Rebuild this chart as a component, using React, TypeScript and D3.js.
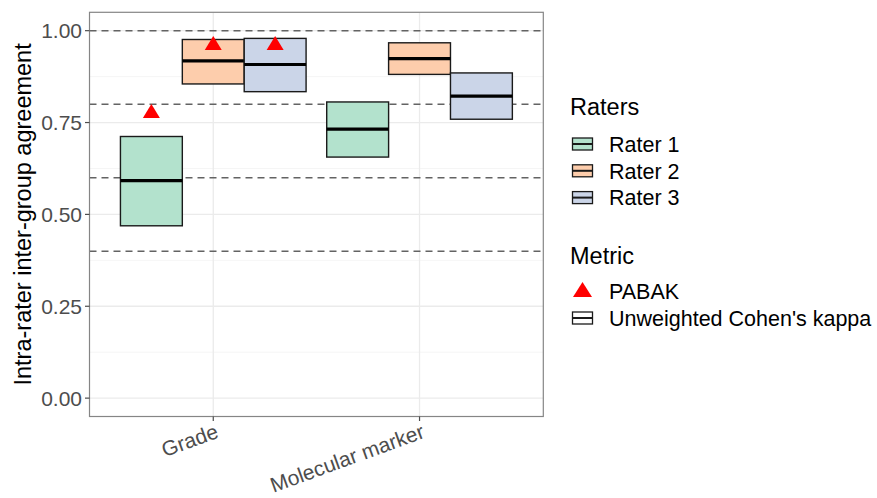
import React from 'react';
import * as d3 from 'd3';

const categories = ['Grade', 'Molecular marker'];
const raters = ['Rater 1', 'Rater 2', 'Rater 3'];
const raterColors = ['#b3e2cd', '#fdcdac', '#cbd5e8'];

// kappa lower / median / upper, one array per category, in rater order
const kappaLow = [[0.469, 0.855, 0.834], [0.656, 0.881, 0.759]];
const kappaMid = [[0.592, 0.918, 0.908], [0.732, 0.924, 0.822]];
const kappaHigh = [[0.712, 0.976, 0.979], [0.806, 0.967, 0.885]];
// PABAK (null = not shown)
const pabak = [[0.775, 0.96, 0.96], [null, null, null]];

const refLines = [0.4, 0.6, 0.8, 1.0];
const yTicks = [0, 0.25, 0.5, 0.75, 1];
const yMinor = [0.125, 0.375, 0.625, 0.875];

const W = 877;
const H = 498;
const panel = { left: 89.5, right: 543.3, top: 12.3, bottom: 416.5 };
const font = '"Liberation Sans", Arial, Helvetica, sans-serif';
const tickSize = 21;
const labelSize = 21.5;
const titleSize = 23.5;

export default function App() {
  const x = d3.scalePoint<string>().domain(categories).range([panel.left, panel.right]).padding(0.6);
  const step = x.step();
  const dodge = d3.scaleBand<string>().domain(raters).range([-0.45 * step, 0.45 * step]);
  const y = d3.scaleLinear().domain([-0.05, 1.05]).range([panel.bottom, panel.top]);
  const color = d3.scaleOrdinal<string, string>().domain(raters).range(raterColors);
  const fmt = d3.format('.2f');

  const tri = (cx: number, cy: number, w = 17, h = 14) =>
    `M${cx},${cy - (2 * h) / 3}L${cx + w / 2},${cy + h / 3}L${cx - w / 2},${cy + h / 3}Z`;

  const boxes: any[] = [];
  categories.forEach((c, ci) => {
    raters.forEach((r, ri) => {
      boxes.push({ c, r, lo: kappaLow[ci][ri], mid: kappaMid[ci][ri], hi: kappaHigh[ci][ri], p: pabak[ci][ri] });
    });
  });

  const legX = 570;
  const raterRowY = (i: number) => 144 + i * 26.8;
  const metricRowY = (i: number) => 291 + i * 27;

  return (
    <svg width={W} height={H} style={{ display: 'block', position: 'absolute', left: 0, top: 0 }} fontFamily={font}>
      <rect width={W} height={H} fill="#fff" />
      {/* grid */}
      {yMinor.map(v => (
        <line key={'mi' + v} x1={panel.left} x2={panel.right} y1={y(v)} y2={y(v)} stroke="#f2f2f2" strokeWidth={0.8} />
      ))}
      {yTicks.map(v => (
        <line key={'ma' + v} x1={panel.left} x2={panel.right} y1={y(v)} y2={y(v)} stroke="#ebebeb" strokeWidth={1.3} />
      ))}
      {categories.map(c => (
        <line key={'vx' + c} x1={x(c)} x2={x(c)} y1={panel.top} y2={panel.bottom} stroke="#ebebeb" strokeWidth={1.3} />
      ))}
      {/* reference lines */}
      {refLines.map(v => (
        <line key={'ref' + v} x1={panel.left} x2={panel.right} y1={y(v)} y2={y(v)} stroke="#636363" strokeWidth={1.5} strokeDasharray="7,5" />
      ))}
      {/* crossbars */}
      {boxes.map(b => {
        const bx = (x(b.c) as number) + (dodge(b.r) as number);
        const bw = dodge.bandwidth();
        return (
          <g key={b.c + b.r}>
            <rect x={bx} y={y(b.hi)} width={bw} height={y(b.lo) - y(b.hi)} fill={color(b.r)} stroke="#1a1a1a" strokeWidth={1.4} />
            <line x1={bx} x2={bx + bw} y1={y(b.mid)} y2={y(b.mid)} stroke="#000" strokeWidth={3.2} />
          </g>
        );
      })}
      {/* PABAK */}
      {boxes.filter(b => b.p != null).map(b => {
        const cx = (x(b.c) as number) + (dodge(b.r) as number) + dodge.bandwidth() / 2;
        return <path key={'p' + b.c + b.r} d={tri(cx, y(b.p))} fill="#ff0000" />;
      })}
      {/* panel border */}
      <rect x={panel.left} y={panel.top} width={panel.right - panel.left} height={panel.bottom - panel.top} fill="none" stroke="#858585" strokeWidth={1.2} />
      {/* y axis */}
      {yTicks.map(v => (
        <g key={'yt' + v}>
          <line x1={panel.left - 4.5} x2={panel.left} y1={y(v)} y2={y(v)} stroke="#4d4d4d" strokeWidth={1.2} />
          <text x={panel.left - 7.5} y={y(v)} dy="0.36em" textAnchor="end" fontSize={tickSize} fill="#4d4d4d">{fmt(v)}</text>
        </g>
      ))}
      <text transform={`translate(31,${(panel.top + panel.bottom) / 2}) rotate(-90)`} textAnchor="middle" fontSize={titleSize} fill="#000">
        Intra-rater inter-group agreement
      </text>
      {/* x axis */}
      {categories.map(c => (
        <g key={'xt' + c}>
          <line x1={x(c)} x2={x(c)} y1={panel.bottom} y2={panel.bottom + 4.5} stroke="#4d4d4d" strokeWidth={1.2} />
          <text transform={`translate(${(x(c) as number) + 1},${panel.bottom + 6}) rotate(-20)`} textAnchor="end" dy="0.75em" fontSize={tickSize} fill="#4d4d4d">
            {c}
          </text>
        </g>
      ))}
      {/* legend: raters */}
      <text x={legX} y={115.3} fontSize={titleSize} fill="#000">Raters</text>
      {raters.map((r, i) => (
        <g key={'lg' + r}>
          <rect x={legX + 2.5} y={raterRowY(i) - 6} width={20} height={12} fill={color(r)} stroke="#1a1a1a" strokeWidth={1.3} />
          <line x1={legX + 2.5} x2={legX + 22.5} y1={raterRowY(i)} y2={raterRowY(i)} stroke="#1a1a1a" strokeWidth={2} />
          <text x={609} y={raterRowY(i)} dy="0.36em" fontSize={labelSize} fill="#000">{r}</text>
        </g>
      ))}
      {/* legend: metric */}
      <text x={legX} y={264} fontSize={titleSize} fill="#000">Metric</text>
      <path d={tri(legX + 12.5, metricRowY(0) + 1, 19, 15)} fill="#ff0000" />
      <text x={609} y={metricRowY(0)} dy="0.36em" fontSize={labelSize} fill="#000">PABAK</text>
      <rect x={legX + 2.5} y={metricRowY(1) - 6} width={20} height={12} fill="#fff" stroke="#1a1a1a" strokeWidth={1.3} />
      <line x1={legX + 2.5} x2={legX + 22.5} y1={metricRowY(1)} y2={metricRowY(1)} stroke="#1a1a1a" strokeWidth={2} />
      <text x={609} y={metricRowY(1)} dy="0.36em" fontSize={labelSize} fill="#000">Unweighted Cohen's kappa</text>
    </svg>
  );
}
